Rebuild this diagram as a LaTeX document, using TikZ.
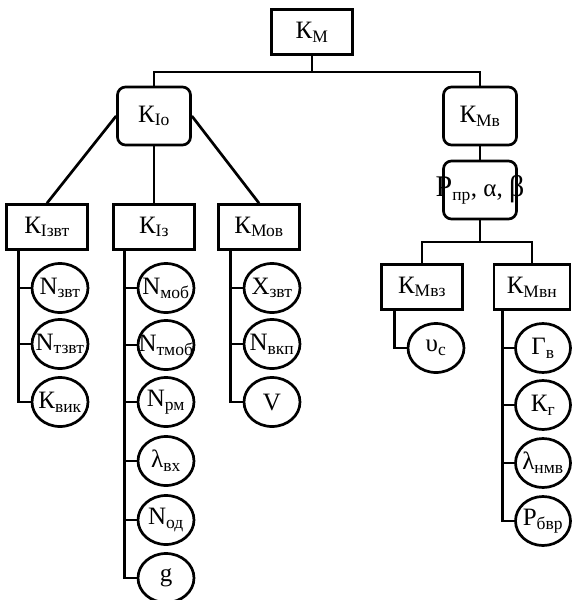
\documentclass[tikz,border=0pt]{standalone}
\usepackage{fontspec}
\setmainfont{Liberation Serif}
\usetikzlibrary{shapes.geometric}
\tikzset{
  sqbox/.style={draw, rectangle, inner sep=0pt, minimum width=81, minimum height=45},
  rndbox/.style={draw, rectangle, rounded corners=8, inner sep=0pt, minimum width=73, minimum height=58},
  leaf/.style={draw, ellipse, inner sep=0pt, minimum width=56, minimum height=49}
}
\begin{document}
\begin{tikzpicture}[x=1pt, y=-1pt, line width=2.7pt, font={\fontsize{25}{30}\selectfont}]
            \useasboundingbox (0,0) rectangle (571,600);

            % Draw top of the tree
            \node[sqbox] (km) at (312,32) {К\textsubscript{М}};
            \node[rndbox] (kio) at (154,116) {К\textsubscript{Іо}};
            \node[rndbox] (kmv) at (480,116) {К\textsubscript{Мв}};
            \node[rndbox, label=center:{{\fontsize{30}{30}\selectfont Р}\textsubscript{пр}, α, {\fontsize{30}{30}\selectfont β}}] (pab) at (480,190) {};
            \coordinate (jm) at (312,72);
            \draw (km.south) -- (jm);
            \draw (jm) -| (kio.north);
            \draw (jm) -| (kmv.north);
            \draw (kmv.south) -- (pab.north);

            % Draw boxes of the second level
            \node[sqbox] (kizvt) at (47,227) {К\textsubscript{Ізвт}};
            \node[sqbox] (kiz) at (154,227) {К\textsubscript{Із}};
            \node[sqbox] (kmov) at (259,227) {К\textsubscript{Мов}};
            \node[sqbox] (kmvz) at (422,287) {К\textsubscript{Мвз}};
            \node[sqbox, minimum width=76] (kmvn) at (532,287) {К\textsubscript{Мвн}};
            \draw (kio.west) -- (kizvt.north);
            \draw (kio.south) -- (kiz.north);
            \draw (kio.east) -- (kmov.north);
            \coordinate (jp) at (480,242);
            \draw (pab.south) -- (jp);
            \draw (jp) -| (kmvz.north);
            \draw (jp) -| (kmvn.north);

            % Draw first column of leaves
            \node[leaf, label=center:{N\textsubscript{звт}}] (nzvt) at (60,288) {};
            \node[leaf, label=center:{N\textsubscript{тзвт}}] (ntzvt) at (60,344) {};
            \node[leaf, label=center:{К\textsubscript{вик}}] (kvik) at (60,402) {};
            \coordinate (c1) at ([xshift=-12]nzvt.west);
            \draw (kizvt.south -| c1) |- (kvik.west);
            \draw (c1) -- (nzvt.west);
            \draw (c1 |- ntzvt) -- (ntzvt.west);

            % Draw second column of leaves
            \node[leaf, label=center:{N\textsubscript{моб}}] (nmob) at (166,288) {};
            \node[leaf, label=center:{N\textsubscript{тмоб}}] (ntmob) at (166,345) {};
            \node[leaf, label=center:{N\textsubscript{рм}}] (nrm) at (166,402) {};
            \node[leaf, label=center:{λ\textsubscript{вх}}] (lvx) at (166,461) {};
            \node[leaf, label=center:{N\textsubscript{од}}] (nod) at (166,520) {};
            \node[leaf, label=center:{g}] (gg) at (166,578) {};
            \coordinate (c2) at ([xshift=-12]nmob.west);
            \draw (kiz.south -| c2) |- (gg.west);
            \draw (c2) -- (nmob.west);
            \draw (c2 |- ntmob) -- (ntmob.west);
            \draw (c2 |- nrm) -- (nrm.west);
            \draw (c2 |- lvx) -- (lvx.west);
            \draw (c2 |- nod) -- (nod.west);

            % Draw third column of leaves
            \node[leaf, label=center:{X\textsubscript{звт}}] (xzvt) at (272,288) {};
            \node[leaf, label=center:{N\textsubscript{вкп}}] (nvkp) at (272,344) {};
            \node[leaf, label=center:{V}] (vv) at (272,402) {};
            \coordinate (c3) at ([xshift=-12]xzvt.west);
            \draw (kmov.south -| c3) |- (vv.west);
            \draw (c3) -- (xzvt.west);
            \draw (c3 |- nvkp) -- (nvkp.west);

            % Draw leaves of the right branch
            \node[leaf, label=center:{υ\textsubscript{с}}] (upsc) at (436,348) {};
            \coordinate (c4) at ([xshift=-12]upsc.west);
            \draw (kmvz.south -| c4) |- (upsc.west);

            \node[leaf, minimum width=55, label=center:{Г\textsubscript{в}}] (gv) at (543,348) {};
            \node[leaf, minimum width=55, label=center:{К\textsubscript{г}}] (kg) at (543,405) {};
            \node[leaf, minimum width=55, label=center:{λ\textsubscript{нмв}}] (lnmv) at (543,463) {};
            \node[leaf, minimum width=55, label=center:{Р\textsubscript{бвр}}] (pbvr) at (543,521) {};
            \coordinate (c5) at ([xshift=-12]gv.west);
            \draw (kmvn.south -| c5) |- (pbvr.west);
            \draw (c5) -- (gv.west);
            \draw (c5 |- kg) -- (kg.west);
            \draw (c5 |- lnmv) -- (lnmv.west);
        \end{tikzpicture}
\end{document}
